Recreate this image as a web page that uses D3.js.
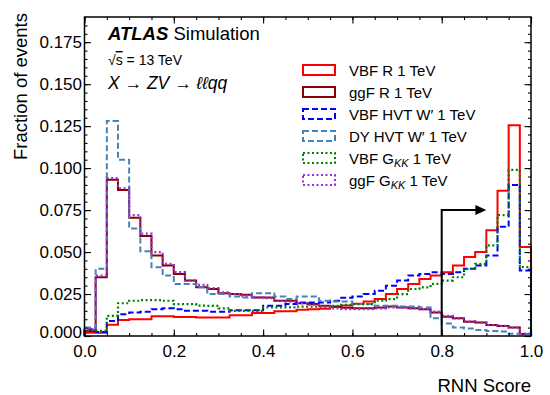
<!DOCTYPE html>
<html>
<head>
<meta charset="utf-8">
<script src="https://cdn.jsdelivr.net/npm/d3@7"></script>
<style>
  body { margin: 0; background: #fff; }
  text { font-family: "Liberation Sans", Arial, sans-serif; }
</style>
</head>
<body>
<div id="chart"></div>
<script>
const W = 550, H = 395;
const margin = {top: 17, right: 19, bottom: 59, left: 84.5};

// 40 bins of width 0.025 on the RNN score
const binWidth = 0.025;
const vbfR = [0.002,0.002,0.0067,0.0095,0.010,0.010,0.0117,0.0117,0.0113,0.0113,
              0.011,0.011,0.011,0.0123,0.0123,0.0137,0.0137,0.0147,0.0147,0.0157,
              0.016,0.0163,0.0173,0.0182,0.0192,0.0206,0.022,0.025,0.028,0.031,
              0.034,0.036,0.038,0.042,0.047,0.050,0.063,0.0865,0.1255,0.053];
const ggfR = [0.003,0.035,0.093,0.087,0.0705,0.0595,0.048,0.042,0.037,0.033,
              0.029,0.028,0.0255,0.025,0.0245,0.023,0.023,0.021,0.021,0.0195,
              0.019,0.018,0.0175,0.0168,0.0165,0.0165,0.017,0.0175,0.017,0.0165,
              0.016,0.014,0.0115,0.0105,0.0085,0.008,0.0065,0.006,0.005,0.0012];
const vbfHVT = [0.004,0.0024,0.009,0.013,0.014,0.0145,0.016,0.0165,0.016,0.015,
                0.015,0.0145,0.0145,0.0153,0.0153,0.0153,0.018,0.018,0.019,0.020,
                0.020,0.020,0.021,0.0228,0.0236,0.025,0.027,0.030,0.033,0.036,
                0.037,0.038,0.037,0.038,0.040,0.042,0.048,0.065,0.090,0.039];
const dyHVT = [0.005,0.040,0.128,0.105,0.064,0.0505,0.041,0.036,0.031,0.031,
               0.029,0.025,0.025,0.0235,0.023,0.0255,0.0255,0.0235,0.022,0.0235,
               0.0235,0.021,0.0205,0.0205,0.019,0.019,0.018,0.018,0.0175,0.0175,
               0.017,0.0105,0.0075,0.005,0.0045,0.0036,0.003,0.0027,0.0013,0.001];
const vbfGKK = [0.0036,0.003,0.012,0.0195,0.021,0.0214,0.0214,0.021,0.019,0.019,
                0.0181,0.018,0.0165,0.015,0.015,0.015,0.017,0.017,0.017,0.0175,
                0.0175,0.0175,0.018,0.0185,0.019,0.019,0.021,0.022,0.025,0.028,
                0.029,0.031,0.033,0.035,0.040,0.043,0.054,0.072,0.099,0.041];
const ggfGKK = [0.004,0.036,0.094,0.088,0.072,0.061,0.050,0.043,0.038,0.033,
                0.0305,0.0285,0.026,0.025,0.024,0.023,0.0225,0.021,0.0205,0.0195,
                0.0185,0.0175,0.0165,0.016,0.016,0.016,0.0165,0.017,0.017,0.0165,
                0.016,0.0145,0.012,0.0105,0.0088,0.008,0.0065,0.006,0.005,0.0015];

const xTicks = [0, 0.2, 0.4, 0.6, 0.8, 1.0];
const yTicks = [0, 0.025, 0.05, 0.075, 0.1, 0.125, 0.15, 0.175];
const cutValue = 0.8;

const series = [
  {label: "VBF R 1 TeV", values: vbfR, color: "#ff0000", dash: null},
  {label: "ggF R 1 TeV", values: ggfR, color: "#8b0000", dash: null},
  {label: "VBF HVT W\u2032 1 TeV", values: vbfHVT, color: "#0000ff", dash: "6,3"},
  {label: "DY HVT W\u2032 1 TeV", values: dyHVT, color: "#4682b4", dash: "6,3"},
  {label: "VBF G", sub: "KK", values: vbfGKK, color: "#008000", dash: "2,2.5"},
  {label: "ggF G", sub: "KK", values: ggfGKK, color: "#9b30d9", dash: "2,2.5"}
];

const x = d3.scaleLinear().domain([0, 1]).range([margin.left, W - margin.right]);
const y = d3.scaleLinear().domain([0, 0.19]).range([H - margin.bottom, margin.top]);

const svg = d3.select("#chart").append("svg")
  .attr("width", W)
  .attr("height", H);

// histograms as steps
const line = d3.line()
  .x(d => x(d[0]))
  .y(d => y(d[1]))
  .curve(d3.curveStepAfter);

function stepPoints(vals) {
  const pts = [[0, 0]];
  vals.forEach((v, i) => pts.push([i * binWidth, v]));
  pts.push([1, vals[vals.length - 1]]);
  pts.push([1, 0]);
  return pts;
}

svg.append("g")
  .selectAll("path")
  .data(series)
  .join("path")
  .attr("d", d => line(stepPoints(d.values)))
  .attr("fill", "none")
  .attr("stroke", d => d.color)
  .attr("stroke-width", d => d.dash && d.dash.startsWith("2") ? 2.2 : 2)
  .attr("stroke-dasharray", d => d.dash);

// cut arrow
const arrowY = 0.075, arrowEnd = 0.9;
svg.append("path")
  .attr("d", `M${x(cutValue)},${y(0)}V${y(arrowY)}H${x(arrowEnd) - 9}`)
  .attr("fill", "none")
  .attr("stroke", "#000")
  .attr("stroke-width", 2);
svg.append("path")
  .attr("d", `M${x(arrowEnd)},${y(arrowY)}l-11,-5v10z`)
  .attr("fill", "#000");

// axes: ticks pointing inwards on all four sides
const minorX = d3.range(0, 1.0001, 0.05);
const minorY = d3.range(0, 0.19, 0.005);

svg.append("g")
  .attr("transform", `translate(0,${y(0)})`)
  .call(d3.axisBottom(x).tickValues(minorX).tickSize(-3).tickFormat(""))
  .call(g => g.select(".domain").remove());
svg.append("g")
  .attr("transform", `translate(0,${y(0)})`)
  .call(d3.axisBottom(x).tickValues(xTicks).tickSize(-6.5).tickPadding(8.5).tickFormat(d3.format(".1f")))
  .call(g => g.select(".domain").remove())
  .call(g => g.selectAll("text").attr("font-size", 17).attr("font-family", "Liberation Sans, Arial, sans-serif").attr("fill", "#000"));

svg.append("g")
  .attr("transform", `translate(0,${margin.top})`)
  .call(d3.axisTop(x).tickValues(minorX).tickSize(-3).tickFormat(""))
  .call(g => g.select(".domain").remove());
svg.append("g")
  .attr("transform", `translate(0,${margin.top})`)
  .call(d3.axisTop(x).tickValues(xTicks).tickSize(-6.5).tickFormat(""))
  .call(g => g.select(".domain").remove());

svg.append("g")
  .attr("transform", `translate(${x(0)},0)`)
  .call(d3.axisLeft(y).tickValues(minorY).tickSize(-3).tickFormat(""))
  .call(g => g.select(".domain").remove());
svg.append("g")
  .attr("transform", `translate(${x(0)},0)`)
  .call(d3.axisLeft(y).tickValues(yTicks).tickSize(-6.5).tickPadding(2.5).tickFormat(d3.format(".3f")))
  .call(g => g.select(".domain").remove())
  .call(g => g.selectAll("text").attr("font-size", 17).attr("font-family", "Liberation Sans, Arial, sans-serif").attr("fill", "#000"))
  .call(g => g.selectAll(".tick").filter(d => d === 0).select("text").attr("dy", "0.1em"));

svg.append("g")
  .attr("transform", `translate(${x(1)},0)`)
  .call(d3.axisRight(y).tickValues(minorY).tickSize(-3).tickFormat(""))
  .call(g => g.select(".domain").remove());
svg.append("g")
  .attr("transform", `translate(${x(1)},0)`)
  .call(d3.axisRight(y).tickValues(yTicks).tickSize(-6.5).tickFormat(""))
  .call(g => g.select(".domain").remove());

svg.selectAll(".tick line").attr("stroke", "#000").attr("stroke-width", 1.1);

svg.append("rect")
  .attr("x", x(0))
  .attr("y", y(0.19))
  .attr("width", x(1) - x(0))
  .attr("height", y(0) - y(0.19))
  .attr("fill", "none")
  .attr("stroke", "#000")
  .attr("stroke-width", 1.5);

// axis titles
svg.append("text")
  .attr("transform", "translate(27,13) rotate(-90)")
  .attr("text-anchor", "end")
  .attr("font-size", 18.5)
  .text("Fraction of events");

svg.append("text")
  .attr("x", x(1))
  .attr("y", 392)
  .attr("text-anchor", "end")
  .attr("font-size", 18.5)
  .text("RNN Score");

// ATLAS labels
const lab = svg.append("text").attr("x", 108).attr("y", 40).attr("font-size", 18.5);
lab.append("tspan").attr("font-weight", "bold").attr("font-style", "italic").text("ATLAS");
lab.append("tspan").text(" Simulation");

const rs = svg.append("text").attr("x", 108).attr("y", 65).attr("font-size", 14);
rs.append("tspan").text("\u221A");
rs.append("tspan").style("text-decoration", "overline").text("s");
rs.append("tspan").text(" = 13 TeV");

const proc = svg.append("text").attr("x", 108).attr("y", 89).attr("font-size", 17.5);
proc.append("tspan").attr("font-style", "italic").text("X ");
proc.append("tspan").text("\u2192 ");
proc.append("tspan").attr("font-style", "italic").text("ZV ");
proc.append("tspan").text("\u2192 ");
proc.append("tspan").attr("font-style", "italic").text("\u2113\u2113qq");

// legend
const legend = svg.append("g")
  .selectAll("g")
  .data(series)
  .join("g")
  .attr("transform", (d, i) => `translate(303,${70 + i * 22})`);

legend.append("rect")
  .attr("x", 0)
  .attr("y", -5)
  .attr("width", 32)
  .attr("height", 10)
  .attr("fill", "none")
  .attr("stroke", d => d.color)
  .attr("stroke-width", 2)
  .attr("stroke-dasharray", d => d.dash);

const lt = legend.append("text")
  .attr("x", 46)
  .attr("y", 5.5)
  .attr("font-size", 15);
lt.append("tspan").text(d => d.label);
lt.filter(d => d.sub).append("tspan")
  .attr("font-style", "italic")
  .attr("font-size", 11)
  .attr("dy", 3)
  .text(d => d.sub);
lt.filter(d => d.sub).append("tspan")
  .attr("dy", -3)
  .text(" 1 TeV");
</script>
</body>
</html>
